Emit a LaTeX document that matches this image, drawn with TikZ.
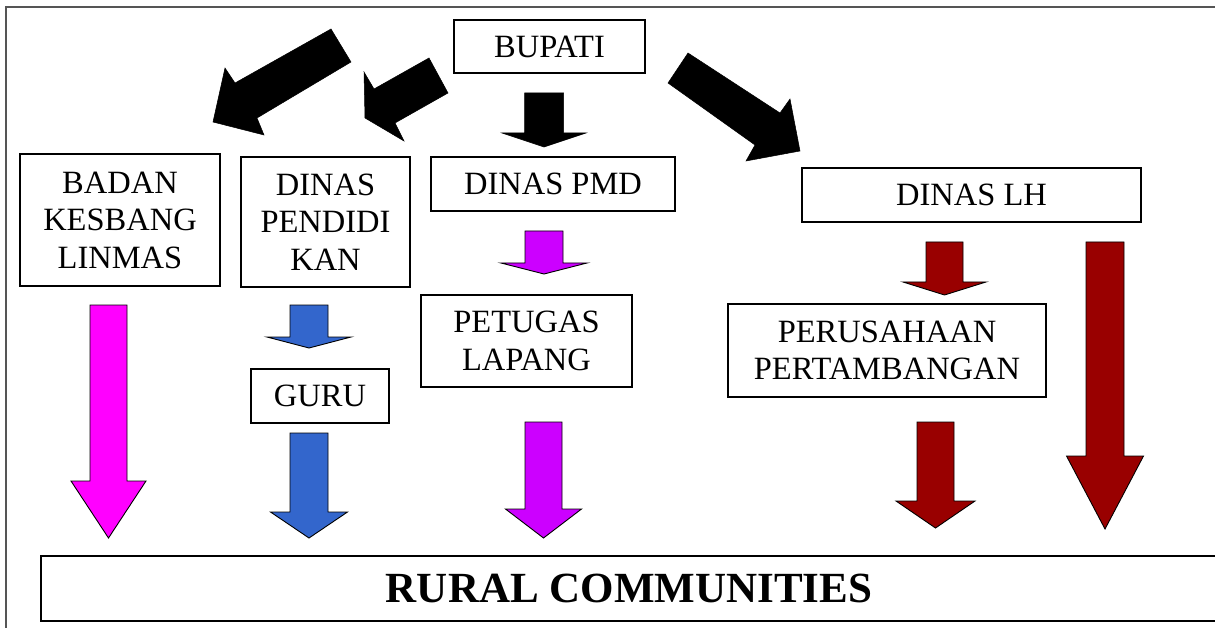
\documentclass[tikz,border=0pt]{standalone}
\usepackage{fontspec}
\setmainfont{Liberation Serif}
\definecolor{arrowmagenta}{HTML}{FF00FF}
\definecolor{arrowblue}{HTML}{3366CC}
\definecolor{arrowpurple}{HTML}{CC00FF}
\definecolor{arrowred}{HTML}{990000}
\definecolor{framegray}{HTML}{555555}
% block arrow pointing down: style, centre x, shaft half width, top y, head y, head half width, tip y
\newcommand\downblock[7]{%
  \draw[#1] ({#2-#3},#4) -- ({#2+#3},#4) -- ({#2+#3},#5) -- ({#2+#6},#5)
    -- (#2,#7) -- ({#2-#6},#5) -- ({#2-#3},#5) -- cycle;}
\begin{document}
\begin{tikzpicture}[x=1pt,y=-1pt,
  box/.style={draw=black,line width=1.6pt,fill=white,inner sep=0pt,align=center,
    font=\fontsize{32.5}{37.5}\selectfont},
  blockarrow/.style={draw=black,line width=0.9pt,line join=miter,fill=#1},
  blackarrow/.style={fill=black,draw=black,line width=0.5pt,line join=miter}]
\useasboundingbox (0,0) rectangle (1215,628);

% outer frame
\draw[framegray,line width=1.2pt] (1230,7) -- (6,7) -- (6,640);

% boxes
\node[box,minimum width=191pt,minimum height=53pt] (bupati) at (549.5,46.5) {BUPATI};
\node[box,minimum width=200pt,minimum height=132pt] (badan) at (120,220) {BADAN\\KESBANG\\LINMAS};
\node[box,minimum width=169pt,minimum height=130pt] (pendidikan) at (325.5,222) {DINAS\\PENDIDI\\KAN};
\node[box,minimum width=244pt,minimum height=54pt] (pmd) at (553,184) {DINAS PMD};
\node[box,minimum width=339pt,minimum height=54pt] (lh) at (971.5,195) {DINAS LH};
\node[box,minimum width=211pt,minimum height=92pt] (petugas) at (526.5,341) {PETUGAS\\LAPANG};
\node[box,minimum width=138pt,minimum height=54pt] (guru) at (320,396) {GURU};
\node[box,minimum width=318pt,minimum height=93pt] (perusahaan) at (887,350.5) {PERUSAHAAN\\PERTAMBANGAN};
\node[box,minimum width=1176pt,minimum height=65pt,font=\bfseries\fontsize{43}{50}\selectfont]
  (rural) at (629,588.5) {RURAL COMMUNITIES};

% black arrows from BUPATI
\draw[blackarrow] (331,29) -- (351,62) -- (257,118) -- (264,135) -- (213,122)
  -- (225,68) -- (235,83) -- cycle;
\draw[blackarrow] (429,58) -- (448,93) -- (395,123) -- (404,141) -- (365,118)
  -- (364,72) -- (374,89) -- cycle;
\draw[blackarrow] (688,53) -- (780,113) -- (790,99) -- (800,151) -- (746,161)
  -- (755,145) -- (668,83) -- cycle;
\downblock{blackarrow}{544}{19.5}{93}{133}{42}{147}

% BADAN KESBANG LINMAS to rural communities
\downblock{blockarrow=arrowmagenta}{108.5}{18.5}{305}{481}{37.5}{538}

% DINAS PENDIDIKAN -> GURU -> rural communities
\downblock{blockarrow=arrowblue}{309}{19}{305}{337}{42}{348}
\downblock{blockarrow=arrowblue}{309}{19}{433}{512}{38.5}{538}

% DINAS PMD -> PETUGAS LAPANG -> rural communities
\downblock{blockarrow=arrowpurple}{544}{19}{231}{263}{43}{274}
\downblock{blockarrow=arrowpurple}{543.5}{18.5}{422}{509}{38}{538}

% DINAS LH -> PERUSAHAAN PERTAMBANGAN -> rural communities
\downblock{blockarrow=arrowred}{944.5}{18.5}{242}{282}{41.5}{295}
\downblock{blockarrow=arrowred}{935.5}{18.5}{422}{501}{39.5}{528}
\downblock{blockarrow=arrowred}{1105}{19}{242}{456}{38.5}{529}
\end{tikzpicture}
\end{document}
